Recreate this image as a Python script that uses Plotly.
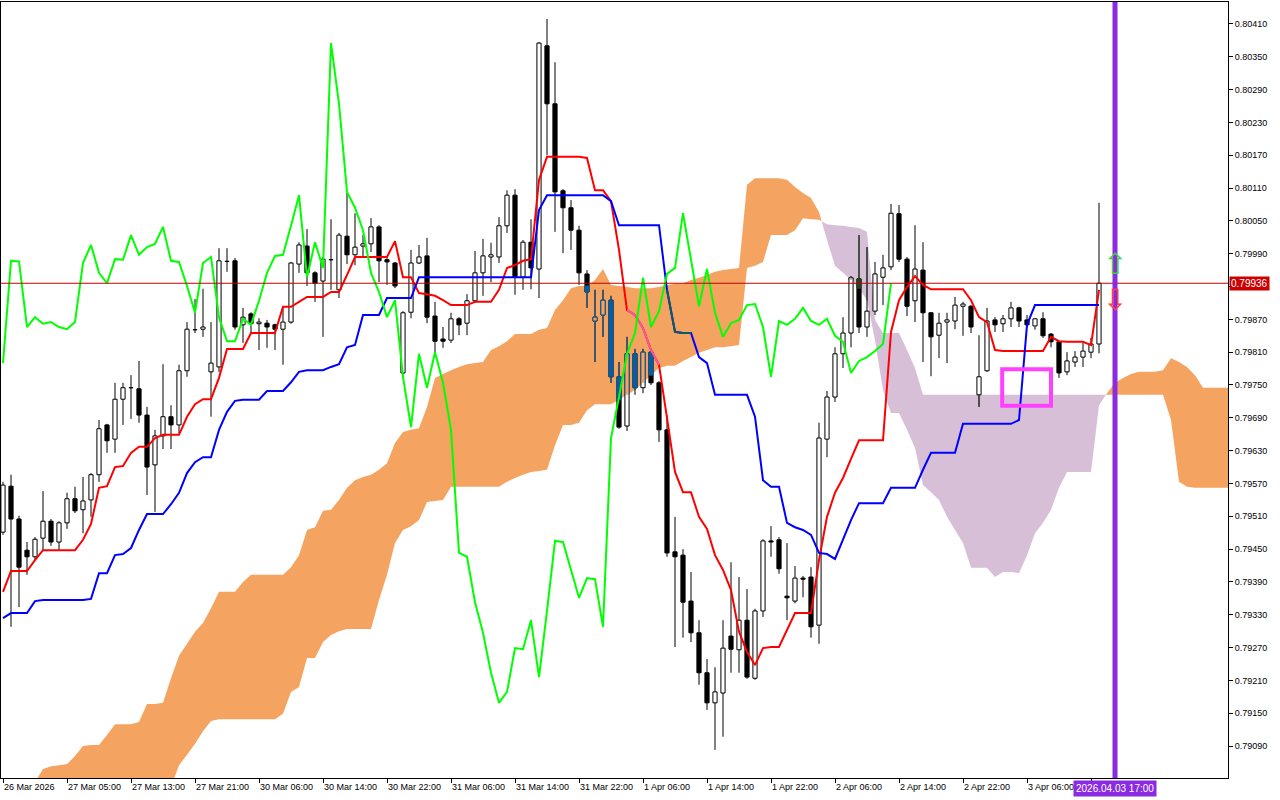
import plotly.graph_objects as go
from collections import defaultdict

# ---------------- data (hourly bars, index 0 = first visible bar) ----------------
bar_tick_index = [0, 8, 16, 24, 32, 40, 48, 56, 64, 72, 80, 88, 96, 104, 112, 120, 128, 136]
# the 3 Apr 14:00 label is hidden behind the highlighted time label in the chart
bar_tick_text = ["26 Mar 2026", "27 Mar 05:00", "27 Mar 13:00", "27 Mar 21:00", "30 Mar 06:00",
                 "30 Mar 14:00", "30 Mar 22:00", "31 Mar 06:00", "31 Mar 14:00", "31 Mar 22:00",
                 "1 Apr 06:00", "1 Apr 14:00", "1 Apr 22:00", "2 Apr 06:00", "2 Apr 14:00",
                 "2 Apr 22:00", "3 Apr 06:00", ""]
price_ticks = [0.79090, 0.79150, 0.79210, 0.79270, 0.79330, 0.79390, 0.79450, 0.79510, 0.79570,
               0.79630, 0.79690, 0.79750, 0.79810, 0.79870, 0.79930, 0.79990, 0.80050, 0.80110,
               0.80170, 0.80230, 0.80290, 0.80350, 0.80410]
hidden_price_tick = 0.79930  # covered by the current-price label

opens = [0.79481, 0.79565, 0.79505, 0.79448, 0.79436, 0.79470, 0.79501, 0.79463, 0.79498, 0.79542,
         0.79522, 0.79540, 0.79586, 0.79677, 0.79651, 0.79724, 0.79745, 0.79743, 0.79695, 0.79604,
         0.79657, 0.79692, 0.79677, 0.79776, 0.79852, 0.79852, 0.79774, 0.79783, 0.79977, 0.79977,
         0.79860, 0.79880, 0.79862, 0.79863, 0.79860, 0.79852, 0.79865, 0.79971, 0.80004, 0.79955,
         0.79940, 0.79980, 0.79924, 0.80022, 0.79988, 0.80004, 0.80008, 0.80039, 0.79979, 0.79973,
         0.79772, 0.79883, 0.79973, 0.79986, 0.79876, 0.79834, 0.79832, 0.79871, 0.79863, 0.79904,
         0.79955, 0.79984, 0.79984, 0.80041, 0.80097, 0.79947, 0.80011, 0.79962, 0.80370, 0.80264,
         0.80105, 0.80074, 0.80033, 0.79953, 0.79867, 0.79878, 0.79905, 0.79765, 0.79675, 0.79807,
         0.79745, 0.79810, 0.79754, 0.79668, 0.79445, 0.79439, 0.79355, 0.79297, 0.79224, 0.79169,
         0.79187, 0.79291, 0.79266, 0.79320, 0.79214, 0.79337, 0.79465, 0.79467, 0.79364, 0.79355,
         0.79397, 0.79399, 0.79311, 0.79651, 0.79728, 0.79807, 0.79845, 0.79944, 0.79856, 0.79885,
         0.79947, 0.79966, 0.80063, 0.79980, 0.79904, 0.79960, 0.79882, 0.79841, 0.79865, 0.79867,
         0.79894, 0.79894, 0.79732, 0.79776, 0.79869, 0.79862, 0.79871, 0.79891, 0.79869, 0.79858,
         0.79871, 0.79843, 0.79829, 0.79774, 0.79792, 0.79801, 0.79810, 0.79825]
highs = [0.79573, 0.79586, 0.79511, 0.79463, 0.79472, 0.79556, 0.79505, 0.79501, 0.79553, 0.79564,
         0.79582, 0.79589, 0.79686, 0.79679, 0.79754, 0.79754, 0.79768, 0.79794, 0.79710, 0.79668,
         0.79788, 0.79713, 0.79787, 0.79865, 0.79907, 0.79926, 0.79865, 0.80000, 0.80000, 0.79982,
         0.79891, 0.79883, 0.79872, 0.79869, 0.79862, 0.79891, 0.79975, 0.80011, 0.80035, 0.79958,
         0.79984, 0.80053, 0.80028, 0.80101, 0.80064, 0.80024, 0.80055, 0.80042, 0.79982, 0.79975,
         0.79885, 0.79997, 0.80006, 0.80019, 0.79902, 0.79856, 0.79882, 0.79874, 0.79916, 0.79995,
         0.80017, 0.80010, 0.80057, 0.80106, 0.80108, 0.80015, 0.80053, 0.80377, 0.80419, 0.80340,
         0.80108, 0.80088, 0.80041, 0.79960, 0.79924, 0.79924, 0.79913, 0.79792, 0.79838, 0.79816,
         0.79816, 0.79814, 0.79757, 0.79695, 0.79509, 0.79450, 0.79408, 0.79320, 0.79249, 0.79234,
         0.79320, 0.79426, 0.79399, 0.79377, 0.79341, 0.79468, 0.79492, 0.79472, 0.79461, 0.79419,
         0.79401, 0.79417, 0.79681, 0.79739, 0.79819, 0.79874, 0.79949, 0.80024, 0.80002, 0.79975,
         0.79988, 0.80081, 0.80079, 0.79984, 0.80042, 0.80011, 0.79883, 0.79882, 0.79882, 0.79911,
         0.79902, 0.79896, 0.79841, 0.79891, 0.79874, 0.79878, 0.79902, 0.79893, 0.79878, 0.79872,
         0.79883, 0.79845, 0.79830, 0.79810, 0.79812, 0.79827, 0.79836, 0.80083]
lows = [0.79476, 0.79308, 0.79344, 0.79403, 0.79430, 0.79448, 0.79456, 0.79447, 0.79487, 0.79516,
        0.79479, 0.79509, 0.79573, 0.79626, 0.79626, 0.79677, 0.79688, 0.79681, 0.79549, 0.79518,
        0.79633, 0.79633, 0.79662, 0.79765, 0.79845, 0.79838, 0.79692, 0.79774, 0.79957, 0.79851,
        0.79827, 0.79845, 0.79814, 0.79818, 0.79814, 0.79787, 0.79862, 0.79955, 0.79931, 0.79902,
        0.79838, 0.79924, 0.79909, 0.79971, 0.79969, 0.79984, 0.79993, 0.79938, 0.79933, 0.79927,
        0.79768, 0.79872, 0.79971, 0.79863, 0.79801, 0.79818, 0.79827, 0.79841, 0.79841, 0.79900,
        0.79913, 0.79938, 0.79973, 0.80028, 0.79915, 0.79924, 0.79925, 0.79909, 0.80170, 0.80030,
        0.79991, 0.79997, 0.79933, 0.79891, 0.79792, 0.79838, 0.79754, 0.79670, 0.79666, 0.79732,
        0.79735, 0.79750, 0.79646, 0.79436, 0.79271, 0.79288, 0.79280, 0.79202, 0.79156, 0.79083,
        0.79107, 0.79224, 0.79224, 0.79213, 0.79211, 0.79326, 0.79436, 0.79405, 0.79320, 0.79351,
        0.79362, 0.79288, 0.79277, 0.79618, 0.79719, 0.79781, 0.79819, 0.79845, 0.79838, 0.79878,
        0.79896, 0.79960, 0.79975, 0.79876, 0.79865, 0.79792, 0.79766, 0.79799, 0.79790, 0.79852,
        0.79840, 0.79845, 0.79710, 0.79774, 0.79847, 0.79847, 0.79856, 0.79856, 0.79856, 0.79851,
        0.79836, 0.79819, 0.79763, 0.79768, 0.79783, 0.79783, 0.79799, 0.79808]
closes = [0.79567, 0.79505, 0.79417, 0.79436, 0.79468, 0.79501, 0.79463, 0.79498, 0.79542, 0.79520,
          0.79538, 0.79586, 0.79670, 0.79648, 0.79724, 0.79745, 0.79746, 0.79695, 0.79600, 0.79657,
          0.79692, 0.79677, 0.79776, 0.79852, 0.79851, 0.79856, 0.79790, 0.79977, 0.79976, 0.79856,
          0.79874, 0.79862, 0.79865, 0.79856, 0.79852, 0.79865, 0.79973, 0.80006, 0.79955, 0.79936,
          0.79980, 0.79979, 0.80024, 0.79988, 0.80002, 0.80008, 0.80039, 0.79977, 0.79975, 0.79931,
          0.79882, 0.79973, 0.79984, 0.79874, 0.79830, 0.79830, 0.79871, 0.79860, 0.79904, 0.79955,
          0.79986, 0.79988, 0.80041, 0.80097, 0.79947, 0.80011, 0.79964, 0.80375, 0.80264, 0.80103,
          0.80074, 0.80033, 0.79955, 0.79920, 0.79874, 0.79905, 0.79765, 0.79673, 0.79807, 0.79745,
          0.79810, 0.79754, 0.79668, 0.79443, 0.79436, 0.79353, 0.79297, 0.79224, 0.79169, 0.79189,
          0.79269, 0.79267, 0.79320, 0.79216, 0.79337, 0.79465, 0.79463, 0.79414, 0.79361, 0.79397,
          0.79395, 0.79308, 0.79653, 0.79728, 0.79807, 0.79845, 0.79946, 0.79856, 0.79885, 0.79953,
          0.79964, 0.80064, 0.79980, 0.79894, 0.79962, 0.79882, 0.79838, 0.79863, 0.79869, 0.79896,
          0.79898, 0.79856, 0.79765, 0.79867, 0.79860, 0.79871, 0.79891, 0.79867, 0.79860, 0.79871,
          0.79840, 0.79829, 0.79772, 0.79794, 0.79801, 0.79812, 0.79825, 0.79936]

tenkan_sen = [0.79372, 0.79410, 0.79410, 0.79410, 0.79430, 0.79448, 0.79448, 0.79448, 0.79448, 0.79448,
              0.79467, 0.79496, 0.79562, 0.79565, 0.79600, 0.79602, 0.79626, 0.79637, 0.79637, 0.79653,
              0.79659, 0.79659, 0.79659, 0.79692, 0.79715, 0.79724, 0.79724, 0.79763, 0.79816, 0.79816,
              0.79816, 0.79845, 0.79845, 0.79845, 0.79845, 0.79893, 0.79893, 0.79902, 0.79911, 0.79911,
              0.79911, 0.79920, 0.79920, 0.79951, 0.79984, 0.79984, 0.79984, 0.79984, 0.79984, 0.80013,
              0.79947, 0.79947, 0.79918, 0.79916, 0.79913, 0.79905, 0.79896, 0.79896, 0.79896, 0.79902,
              0.79902, 0.79902, 0.79924, 0.79964, 0.79969, 0.79977, 0.79980, 0.80125, 0.80167, 0.80167,
              0.80167, 0.80167, 0.80167, 0.80165, 0.80106, 0.80106, 0.80086, 0.79997, 0.79887, 0.79878,
              0.79854, 0.79814, 0.79787, 0.79690, 0.79591, 0.79554, 0.79554, 0.79509, 0.79487, 0.79439,
              0.79412, 0.79375, 0.79299, 0.79262, 0.79238, 0.79269, 0.79271, 0.79271, 0.79302, 0.79333,
              0.79333, 0.79333, 0.79430, 0.79509, 0.79553, 0.79580, 0.79615, 0.79649, 0.79649, 0.79649,
              0.79649, 0.79847, 0.79905, 0.79929, 0.79949, 0.79933, 0.79925, 0.79925, 0.79925, 0.79925,
              0.79925, 0.79905, 0.79874, 0.79865, 0.79814, 0.79812, 0.79812, 0.79812, 0.79812, 0.79812,
              0.79812, 0.79838, 0.79830, 0.79829, 0.79829, 0.79829, 0.79823, 0.79924]
kijun_sen = [0.79324, 0.79333, 0.79333, 0.79333, 0.79355, 0.79357, 0.79357, 0.79357, 0.79357, 0.79357,
             0.79357, 0.79359, 0.79406, 0.79406, 0.79439, 0.79441, 0.79452, 0.79485, 0.79514, 0.79514,
             0.79514, 0.79532, 0.79553, 0.79589, 0.79609, 0.79618, 0.79618, 0.79668, 0.79701, 0.79721,
             0.79723, 0.79723, 0.79723, 0.79739, 0.79739, 0.79739, 0.79755, 0.79774, 0.79777, 0.79777,
             0.79777, 0.79783, 0.79788, 0.79819, 0.79823, 0.79878, 0.79878, 0.79878, 0.79909, 0.79909,
             0.79909, 0.79909, 0.79947, 0.79947, 0.79947, 0.79947, 0.79947, 0.79947, 0.79947, 0.79947,
             0.79947, 0.79947, 0.79947, 0.79947, 0.79947, 0.79947, 0.79947, 0.80070, 0.80097, 0.80097,
             0.80097, 0.80097, 0.80097, 0.80097, 0.80097, 0.80097, 0.80086, 0.80042, 0.80042, 0.80042,
             0.80042, 0.80042, 0.80042, 0.79924, 0.79847, 0.79845, 0.79845, 0.79801, 0.79790, 0.79732,
             0.79732, 0.79732, 0.79732, 0.79732, 0.79692, 0.79576, 0.79564, 0.79564, 0.79498, 0.79490,
             0.79485, 0.79476, 0.79443, 0.79441, 0.79432, 0.79467, 0.79503, 0.79534, 0.79534, 0.79534,
             0.79534, 0.79562, 0.79562, 0.79562, 0.79562, 0.79595, 0.79626, 0.79626, 0.79626, 0.79626,
             0.79679, 0.79679, 0.79679, 0.79679, 0.79679, 0.79679, 0.79679, 0.79686, 0.79860, 0.79896,
             0.79896, 0.79896, 0.79896, 0.79896, 0.79896, 0.79896, 0.79896, 0.79896]
# Senkou spans, already displaced 26 bars forward (index 0..154)
senkou_a = [0.78982, 0.78991, 0.79000, 0.79010, 0.79024, 0.79048, 0.79053, 0.79055, 0.79057, 0.79072,
            0.79090, 0.79092, 0.79092, 0.79110, 0.79130, 0.79130, 0.79130, 0.79134, 0.79167, 0.79167,
            0.79169, 0.79214, 0.79255, 0.79277, 0.79299, 0.79315, 0.79342, 0.79372, 0.79372, 0.79372,
            0.79390, 0.79403, 0.79403, 0.79403, 0.79403, 0.79403, 0.79417, 0.79439, 0.79485, 0.79490,
            0.79520, 0.79522, 0.79540, 0.79562, 0.79576, 0.79582, 0.79586, 0.79595, 0.79607, 0.79644,
            0.79664, 0.79668, 0.79671, 0.79710, 0.79763, 0.79770, 0.79777, 0.79783, 0.79788, 0.79790,
            0.79792, 0.79814, 0.79821, 0.79830, 0.79843, 0.79843, 0.79843, 0.79851, 0.79854, 0.79887,
            0.79905, 0.79927, 0.79931, 0.79931, 0.79942, 0.79962, 0.79933, 0.79931, 0.79929, 0.79927,
            0.79927, 0.79927, 0.79929, 0.79933, 0.79935, 0.79936, 0.79942, 0.79946, 0.79951, 0.79957,
            0.79960, 0.79962, 0.79964, 0.80116, 0.80128, 0.80128, 0.80128, 0.80128, 0.80125, 0.80112,
            0.80101, 0.80092, 0.80066, 0.80015, 0.79968, 0.79955, 0.79942, 0.79927, 0.79905, 0.79832,
            0.79741, 0.79699, 0.79699, 0.79668, 0.79635, 0.79567, 0.79554, 0.79540, 0.79509, 0.79485,
            0.79461, 0.79416, 0.79416, 0.79416, 0.79399, 0.79408, 0.79408, 0.79406, 0.79439, 0.79479,
            0.79498, 0.79522, 0.79562, 0.79591, 0.79591, 0.79591, 0.79591, 0.79713, 0.79735, 0.79754,
            0.79763, 0.79770, 0.79774, 0.79774, 0.79774, 0.79777, 0.79799, 0.79792, 0.79783, 0.79768,
            0.79745, 0.79745, 0.79745, 0.79745, 0.79745]
senkou_b = [0.78850, 0.78850, 0.78850, 0.78850, 0.78850, 0.78850, 0.78880, 0.78880, 0.78880, 0.78880,
            0.78880, 0.78920, 0.78920, 0.78920, 0.78920, 0.78920, 0.78950, 0.78950, 0.78950, 0.78975,
            0.78995, 0.79015, 0.79055, 0.79074, 0.79094, 0.79117, 0.79136, 0.79139, 0.79139, 0.79139,
            0.79139, 0.79139, 0.79139, 0.79139, 0.79139, 0.79149, 0.79189, 0.79198, 0.79251, 0.79251,
            0.79280, 0.79293, 0.79300, 0.79304, 0.79304, 0.79304, 0.79304, 0.79357, 0.79403, 0.79461,
            0.79485, 0.79492, 0.79503, 0.79536, 0.79538, 0.79540, 0.79564, 0.79564, 0.79564, 0.79564,
            0.79564, 0.79564, 0.79564, 0.79573, 0.79580, 0.79586, 0.79591, 0.79593, 0.79595, 0.79640,
            0.79677, 0.79677, 0.79681, 0.79704, 0.79715, 0.79715, 0.79715, 0.79723, 0.79732, 0.79741,
            0.79754, 0.79768, 0.79781, 0.79785, 0.79785, 0.79794, 0.79801, 0.79809, 0.79814, 0.79819,
            0.79819, 0.79821, 0.79823, 0.79964, 0.79968, 0.79975, 0.80024, 0.80024, 0.80024, 0.80033,
            0.80055, 0.80053, 0.80052, 0.80044, 0.80042, 0.80041, 0.80039, 0.80037, 0.80030, 0.79869,
            0.79845, 0.79845, 0.79845, 0.79814, 0.79781, 0.79732, 0.79732, 0.79732, 0.79732, 0.79732,
            0.79732, 0.79732, 0.79732, 0.79732, 0.79732, 0.79732, 0.79732, 0.79732, 0.79732, 0.79732,
            0.79732, 0.79732, 0.79732, 0.79732, 0.79732, 0.79732, 0.79732, 0.79732, 0.79732, 0.79732,
            0.79732, 0.79732, 0.79732, 0.79732, 0.79732, 0.79732, 0.79686, 0.79573, 0.79564, 0.79562,
            0.79562, 0.79562, 0.79562, 0.79562, 0.79562]

CHIKOU_SHIFT = 26
last_price = 0.79936
event_bar = 139            # vertical marker: 2026.04.03 17:00
event_label = "2026.04.03 17:00"
box_bars = (124.9, 131.0)  # highlighted rectangle
box_prices = (0.79712, 0.79779)
arrow_up_price = 0.79972
arrow_down_price = 0.79906

# ---------------- styling ----------------
ORANGE = "#f4a460"   # SandyBrown (bullish cloud)
THISTLE = "#d8bfd8"  # Thistle (bearish cloud)
X_RANGE = [-0.25, 153.125]
Y_RANGE = [0.790316, 0.804501]
W = 0.26             # half body width (bars)
FONT = "Liberation Sans"

n_bars = len(opens)
assert len(highs) == len(lows) == len(closes) == len(tenkan_sen) == len(kijun_sen) == n_bars
assert len(senkou_a) == len(senkou_b)


def blend(cloud_hex, line_hex):
    c = [int(cloud_hex[i:i + 2], 16) for i in (1, 3, 5)]
    l = [int(line_hex[i:i + 2], 16) for i in (1, 3, 5)]
    return "#%02x%02x%02x" % tuple(ci ^ (255 - li) for ci, li in zip(c, l))


fig = go.Figure()

# ---- cloud (split into bullish/bearish regions, with crossing points) ----
pts = []
for k in range(len(senkou_a) - 1):
    a0, b0, a1, b1 = senkou_a[k], senkou_b[k], senkou_a[k + 1], senkou_b[k + 1]
    pts.append((k, a0, b0, False))
    d0, d1 = a0 - b0, a1 - b1
    if d0 * d1 < 0:
        t = d0 / (d0 - d1)
        yc = a0 + t * (a1 - a0)
        pts.append((k + t, yc, yc, True))
pts.append((len(senkou_a) - 1, senkou_a[-1], senkou_b[-1], False))
runs, cur = [], []
for p in pts:
    cur.append(p)
    if p[3]:
        runs.append(cur)
        cur = [p]
runs.append(cur)
cloud_poly = {ORANGE: ([], []), THISTLE: ([], [])}
for run in runs:
    s = sum(p[1] - p[2] for p in run)
    col = ORANGE if s > 0 else THISTLE
    xs = [p[0] for p in run] + [p[0] for p in reversed(run)] + [None]
    ys = [p[1] for p in run] + [p[2] for p in reversed(run)] + [None]
    cloud_poly[col][0].extend(xs)
    cloud_poly[col][1].extend(ys)
for col, (xs, ys) in cloud_poly.items():
    fig.add_trace(go.Scatter(x=xs, y=ys, mode="none", fill="toself", fillcolor=col,
                             hoverinfo="skip"))

# ---- candles ----
wick_x, wick_y = [], []
white_x, white_y, black_x, black_y = [], [], [], []
for k in range(n_bars):
    wick_x += [k, k, None]
    wick_y += [lows[k], highs[k], None]
    top, bot = max(opens[k], closes[k]), min(opens[k], closes[k])
    rx = [k - W, k + W, k + W, k - W, k - W, None]
    ry = [bot, bot, top, top, bot, None]
    if closes[k] >= opens[k]:
        white_x += rx; white_y += ry
    else:
        black_x += rx; black_y += ry
fig.add_trace(go.Scatter(x=wick_x, y=wick_y, mode="lines", line=dict(color="black", width=1),
                         hoverinfo="skip"))
fig.add_trace(go.Scatter(x=white_x, y=white_y, mode="lines", fill="toself", fillcolor="white",
                         line=dict(color="black", width=1), hoverinfo="skip"))
fig.add_trace(go.Scatter(x=black_x, y=black_y, mode="lines", fill="toself", fillcolor="black",
                         line=dict(color="black", width=1), hoverinfo="skip"))

# ---- candle parts lying inside the cloud (MT colour inversion) ----
seg = defaultdict(lambda: ([], []))
fil = defaultdict(lambda: ([], []))
fil_plain = defaultdict(lambda: ([], []))


def add_seg(col, x0, y0, x1, y1):
    seg[col][0].extend([x0, x1, None]); seg[col][1].extend([y0, y1, None])


def add_rect(store, col, k, y0, y1):
    store[col][0].extend([k - W, k + W, k + W, k - W, k - W, None])
    store[col][1].extend([y0, y0, y1, y1, y0, None])


for k in range(n_bars):
    a, b = senkou_a[k], senkou_b[k]
    lo, hi = min(a, b), max(a, b)
    cloud = ORANGE if a > b else THISTLE
    dark = blend(cloud, "#000000")
    top, bot = max(opens[k], closes[k]), min(opens[k], closes[k])
    u0, u1 = max(top, lo), min(highs[k], hi)
    if u1 > u0:
        add_seg(dark, k, u0, k, u1)
    l0, l1 = max(lows[k], lo), min(bot, hi)
    if l1 > l0:
        add_seg(dark, k, l0, k, l1)
    b0, b1 = max(bot, lo), min(top, hi)
    if b1 > b0:
        if closes[k] < opens[k]:
            add_rect(fil, dark, k, b0, b1)
        else:
            add_rect(fil_plain, cloud, k, b0, b1)
            add_seg(dark, k - W, b0, k - W, b1)
            add_seg(dark, k + W, b0, k + W, b1)
            if lo <= top <= hi:
                add_seg(dark, k - W, top, k + W, top)
            if lo <= bot <= hi:
                add_seg(dark, k - W, bot, k + W, bot)
    elif b1 == b0 and lo <= top <= hi:
        add_seg(dark, k - W, top, k + W, top)

for col, (xs, ys) in fil_plain.items():
    fig.add_trace(go.Scatter(x=xs, y=ys, mode="none", fill="toself", fillcolor=col, hoverinfo="skip"))
for col, (xs, ys) in fil.items():
    fig.add_trace(go.Scatter(x=xs, y=ys, mode="lines", fill="toself", fillcolor=col,
                             line=dict(color=col, width=1), hoverinfo="skip"))
for col, (xs, ys) in seg.items():
    fig.add_trace(go.Scatter(x=xs, y=ys, mode="lines", line=dict(color=col, width=1), hoverinfo="skip"))


# ---- Tenkan / Kijun (with inverted colour inside the bullish cloud) ----
def inside_orange(vals):
    out = []
    for k, v in enumerate(vals):
        a, b = senkou_a[k], senkou_b[k]
        out.append(v if (a > b and b < v < a) else None)
    return out


bars = list(range(n_bars))
for vals, col in ((tenkan_sen, "#ff0000"), (kijun_sen, "#0000ff")):
    fig.add_trace(go.Scatter(x=bars, y=vals, mode="lines", line=dict(color=col, width=2),
                             hoverinfo="skip"))
    fig.add_trace(go.Scatter(x=bars, y=inside_orange(vals), mode="lines",
                             line=dict(color=blend(ORANGE, col), width=2), connectgaps=False,
                             hoverinfo="skip"))

# ---- Chikou span: close plotted 26 bars back ----
fig.add_trace(go.Scatter(x=[k - CHIKOU_SHIFT for k in range(CHIKOU_SHIFT, n_bars)],
                         y=closes[CHIKOU_SHIFT:], mode="lines",
                         line=dict(color="#00ff00", width=2), hoverinfo="skip"))

# ---------------- layout ----------------
shapes = [
    dict(type="line", xref="paper", x0=0, x1=1, yref="y", y0=last_price, y1=last_price,
         line=dict(color="#c00000", width=1), layer="above"),
    dict(type="rect", xref="x", x0=box_bars[0], x1=box_bars[1], yref="y",
         y0=box_prices[0], y1=box_prices[1], line=dict(color="#ff40ff", width=4),
         fillcolor="rgba(0,0,0,0)", layer="above"),
    dict(type="line", xref="x", x0=event_bar, x1=event_bar, yref="paper", y0=0, y1=1,
         line=dict(color="#8a2be2", width=5), layer="above"),
]
annotations = [
    dict(xref="paper", x=1, xanchor="left", xshift=1, yref="y", y=last_price, yanchor="middle",
         text=f"{last_price:.5f}", showarrow=False, bgcolor="#cc0000", borderpad=1,
         font=dict(color="white", size=10, family=FONT)),
    dict(xref="x", x=event_bar, xanchor="center", yref="paper", y=0, yanchor="top", yshift=-2,
         text=event_label, showarrow=False, bgcolor="#8a2be2", borderpad=2,
         font=dict(color="white", size=10, family=FONT)),
    dict(xref="x", x=event_bar, yref="y", y=arrow_up_price, yanchor="middle", text="\u21e7",
         showarrow=False, borderpad=0,
         font=dict(color="#3fcf3f", size=29, family="DejaVu Sans")),
    dict(xref="x", x=event_bar, yref="y", y=arrow_down_price, yanchor="middle", text="\u21e9",
         showarrow=False, borderpad=0,
         font=dict(color="#ff4040", size=29, family="DejaVu Sans")),
]

fig.update_layout(
    width=1280, height=800,
    margin=dict(l=1, r=52, t=2, b=22),
    paper_bgcolor="white", plot_bgcolor="white",
    showlegend=False, hovermode=False,
    shapes=shapes, annotations=annotations,
    xaxis=dict(range=X_RANGE, tickvals=bar_tick_index, ticktext=bar_tick_text,
               ticks="outside", ticklen=4, tickcolor="black", ticklabelposition="outside right",
               showline=True, linecolor="black", linewidth=1, mirror=True,
               showgrid=False, zeroline=False, tickfont=dict(size=9, color="black", family=FONT)),
    yaxis=dict(range=Y_RANGE, side="right", tickvals=price_ticks,
               ticktext=["" if p == hidden_price_tick else f"{p:.5f}" for p in price_ticks],
               ticks="outside", ticklen=4, tickcolor="black",
               showline=True, linecolor="black", linewidth=1, mirror=True,
               showgrid=False, zeroline=False, tickfont=dict(size=9, color="black", family=FONT)),
)

fig.write_html("out.html", config={"displayModeBar": False},
               post_script="document.body.style.margin='0px';document.body.style.overflow='hidden';")
